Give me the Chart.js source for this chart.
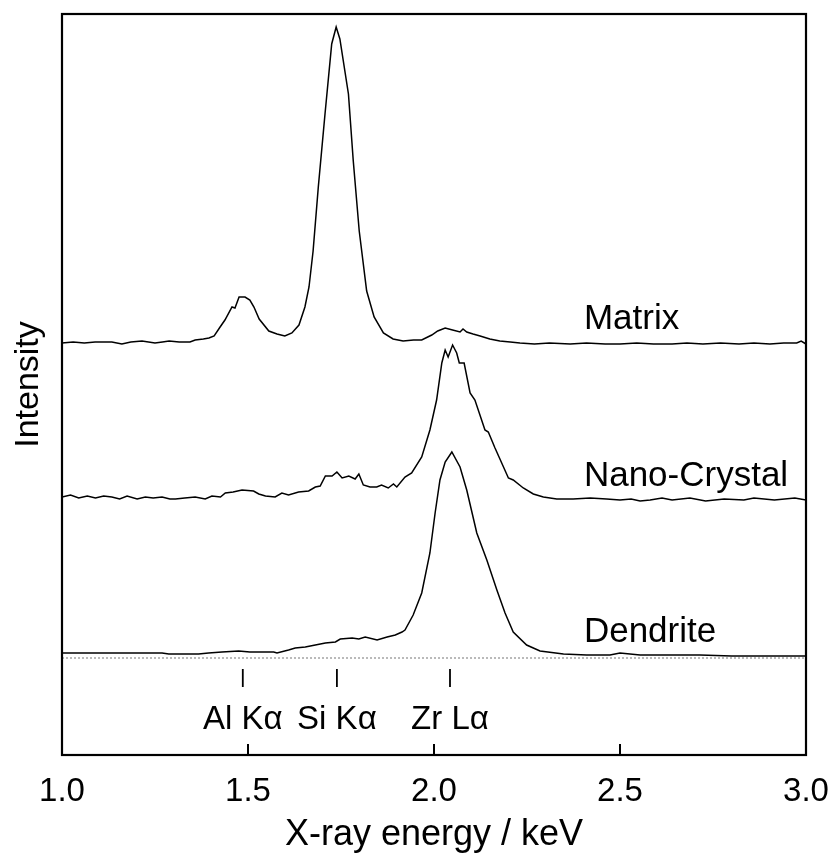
<!DOCTYPE html>
<html>
<head>
<meta charset="utf-8">
<script src="https://cdn.jsdelivr.net/npm/chart.js@4.4.1/dist/chart.umd.min.js"></script>
<style>
  html, body { margin: 0; padding: 0; background: #fff; }
  #wrap { width: 835px; height: 863px; }
</style>
</head>
<body>
<div id="wrap"><canvas id="spectra"></canvas></div>
<script>
// EDS spectra, offset for display (arbitrary intensity units)
const matrixE = [1.000,1.030,1.060,1.089,1.115,1.134,1.161,1.185,1.215,1.250,1.270,1.288,1.315,1.344,1.358,1.380,1.395,1.409,1.425,1.438,1.457,1.465,1.476,1.492,1.505,1.516,1.530,1.556,1.578,1.599,1.618,1.637,1.653,1.664,1.675,1.689,1.707,1.725,1.737,1.747,1.770,1.783,1.799,1.819,1.839,1.864,1.890,1.917,1.945,1.967,1.994,2.010,2.030,2.050,2.070,2.078,2.088,2.105,2.124,2.150,2.177,2.205,2.231,2.270,2.310,2.366,2.410,2.460,2.500,2.545,2.590,2.640,2.680,2.723,2.770,2.820,2.860,2.903,2.940,2.975,2.987,3.000];
const matrixI = [412,413,412,413,413,413,411,413,414,412,413,414,413,413,415,416,417,419,428,435,448,447,458,458,455,448,436,424,421,419,422,430,448,468,504,568,641,711,728,716,661,594,524,464,438,422,416,414,415,415,420,424,427,425,423,426,423,421,419,416,414,413,412,411,412,411,412,411,411,412,411,411,412,411,412,411,412,411,412,412,414,411];

const nanoE = [1.000,1.023,1.045,1.068,1.090,1.112,1.134,1.155,1.175,1.202,1.224,1.245,1.269,1.290,1.305,1.330,1.358,1.385,1.403,1.426,1.439,1.460,1.484,1.515,1.529,1.547,1.573,1.591,1.609,1.636,1.663,1.681,1.694,1.708,1.726,1.739,1.753,1.771,1.788,1.798,1.810,1.828,1.846,1.859,1.877,1.891,1.900,1.922,1.940,1.967,1.989,2.007,2.021,2.030,2.038,2.050,2.061,2.068,2.081,2.097,2.110,2.137,2.146,2.164,2.200,2.213,2.240,2.267,2.294,2.330,2.374,2.420,2.464,2.500,2.530,2.554,2.581,2.613,2.640,2.688,2.730,2.780,2.833,2.860,2.915,2.970,3.000];
const nanoI = [258,260,257,259,257,259,258,256,259,256,258,257,258,256,256,257,258,256,259,258,262,263,265,264,261,259,258,262,260,263,264,268,269,279,279,283,277,279,276,281,270,268,268,270,267,271,268,278,282,298,325,355,392,405,398,410,402,392,392,362,355,325,323,307,277,275,267,261,258,256,256,257,256,255,256,254,255,257,255,257,254,256,255,257,255,257,255];

const dendE = [1.000,1.045,1.090,1.135,1.179,1.225,1.269,1.287,1.330,1.367,1.394,1.430,1.475,1.505,1.538,1.569,1.578,1.609,1.627,1.654,1.681,1.708,1.735,1.748,1.780,1.798,1.815,1.847,1.874,1.896,1.914,1.922,1.944,1.967,1.989,2.003,2.016,2.030,2.048,2.070,2.088,2.115,2.142,2.169,2.191,2.213,2.249,2.285,2.348,2.410,2.473,2.500,2.554,2.620,2.715,2.800,2.900,3.000];
const dendI = [102,102,102,102,102,102,102,101,101,101,102,103,104,103,103,103,102,105,107,108,110,112,113,116,117,116,118,115,118,120,123,125,140,162,202,242,275,293,303,288,265,222,195,165,142,123,110,104,101,100,100,102,100,100,100,99,99,99];

const baselineI = 97;

// characteristic lines
const lineE = [1.486, 1.739, 2.043];
const lineLabels = ['Al K\u03B1', 'Si K\u03B1', 'Zr L\u03B1'];
const lineMarkI = [68, 86];
const lineLabelI = 26;

// series names
const seriesNames = ['Matrix', 'Nano-Crystal', 'Dendrite'];
const seriesLabelE = 2.403;
const seriesLabelI = [426, 269, 113];

const xTicks = [1.0, 1.5, 2.0, 2.5, 3.0];

const FONT = '"Liberation Sans", Arial, Helvetica, sans-serif';

function toPoints(xs, ys) {
    return xs.map((x, i) => ({ x: x, y: ys[i] }));
}

const curve = (data) => ({
    data: data,
    borderColor: '#000',
    borderWidth: 1.5,
    pointRadius: 0,
    tension: 0,
    fill: false
});

const datasets = [
    curve(toPoints(matrixE, matrixI)),
    curve(toPoints(nanoE, nanoI)),
    curve(toPoints(dendE, dendI)),
    {
        data: [{ x: 1.0, y: baselineI }, { x: 3.0, y: baselineI }],
        borderColor: '#777',
        borderWidth: 1,
        borderDash: [2, 2],
        pointRadius: 0
    }
];
lineE.forEach(e => {
    datasets.push({
        data: [{ x: e, y: lineMarkI[0] }, { x: e, y: lineMarkI[1] }],
        borderColor: '#000',
        borderWidth: 1.8,
        pointRadius: 0
    });
});

// frame, inward ticks and text labels
const decorations = {
    id: 'decorations',
    afterDatasetsDraw(chart) {
        const { ctx, chartArea: a, scales } = chart;
        const xs = scales.x, ys = scales.y;
        ctx.save();
        ctx.strokeStyle = '#000';
        ctx.lineWidth = 2.2;
        ctx.strokeRect(a.left, a.top, a.right - a.left, a.bottom - a.top);

        ctx.lineWidth = 2;
        xTicks.slice(1, -1).forEach(t => {
            const px = xs.getPixelForValue(t);
            ctx.beginPath();
            ctx.moveTo(px, a.bottom);
            ctx.lineTo(px, a.bottom - 11);
            ctx.stroke();
        });

        ctx.fillStyle = '#000';
        ctx.font = '33px ' + FONT;
        ctx.textBaseline = 'alphabetic';
        ctx.textAlign = 'center';
        lineE.forEach((e, i) => {
            ctx.fillText(lineLabels[i], xs.getPixelForValue(e), ys.getPixelForValue(lineLabelI));
        });
        ctx.font = '35px ' + FONT;
        ctx.textAlign = 'left';
        seriesNames.forEach((n, i) => {
            ctx.fillText(n, xs.getPixelForValue(seriesLabelE), ys.getPixelForValue(seriesLabelI[i]));
        });
        ctx.restore();
    }
};

new Chart(document.getElementById('spectra'), {
    type: 'line',
    data: { datasets: datasets },
    options: {
        responsive: true,
        maintainAspectRatio: false,
        animation: false,
        events: [],
        layout: { padding: { top: 14, right: 29, left: 0, bottom: 0 } },
        plugins: {
            legend: { display: false },
            tooltip: { enabled: false }
        },
        scales: {
            x: {
                type: 'linear',
                min: 1.0,
                max: 3.0,
                afterFit: (s) => { s.height = 108; s.paddingLeft = 0; s.paddingRight = 0; },
                afterBuildTicks: (s) => { s.ticks = xTicks.map(v => ({ value: v })); },
                grid: { display: false, drawTicks: false },
                border: { display: false },
                ticks: {
                    padding: 17,
                    color: '#000',
                    maxRotation: 0,
                    font: { family: FONT, size: 33 },
                    callback: (v) => Number(v).toFixed(1)
                },
                title: {
                    display: true,
                    text: 'X-ray energy / keV',
                    color: '#000',
                    font: { family: FONT, size: 36 },
                    padding: { top: 0, bottom: 6 }
                }
            },
            y: {
                min: 0,
                max: 741,
                afterFit: (s) => { s.width = 62; },
                grid: { display: false, drawTicks: false },
                border: { display: false },
                ticks: { display: false },
                title: {
                    display: true,
                    text: 'Intensity',
                    color: '#000',
                    font: { family: FONT, size: 34 },
                    padding: { top: 8, bottom: 0 }
                }
            }
        }
    },
    plugins: [decorations]
});
</script>
</body>
</html>
